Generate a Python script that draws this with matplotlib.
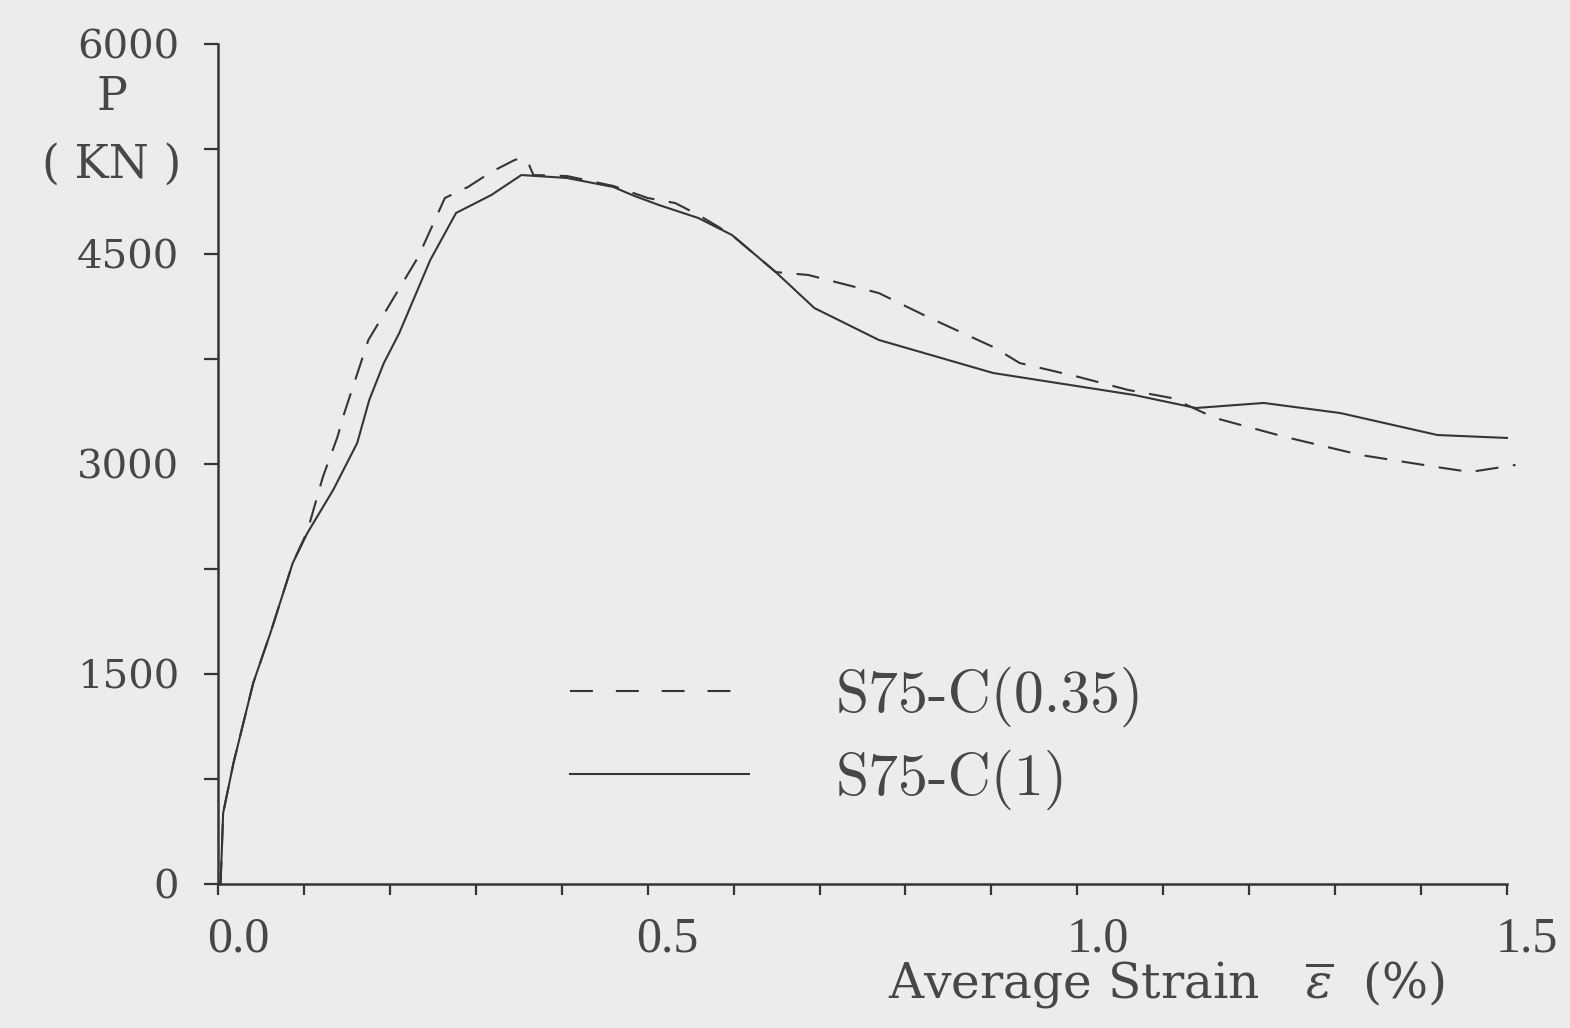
import matplotlib
matplotlib.use("Agg")
import matplotlib.pyplot as plt
import matplotlib.transforms as mtransforms
from matplotlib.lines import Line2D

# ---- data ----
strain_c1 = [0.003, 0.006, 0.018, 0.041, 0.061, 0.087, 0.104, 0.134, 0.162, 0.176,
             0.193, 0.211, 0.247, 0.277, 0.318, 0.353, 0.406, 0.460, 0.482, 0.513,
             0.559, 0.598, 0.649, 0.694, 0.769, 0.902, 1.066, 1.138, 1.217, 1.306,
             1.419, 1.500]
load_c1 = [0, 507, 864, 1436, 1793, 2293, 2507, 2814, 3150, 3457,
           3721, 3936, 4457, 4793, 4921, 5064, 5043, 4979, 4921, 4850,
           4757, 4636, 4371, 4114, 3886, 3650, 3493, 3400, 3436, 3364,
           3207, 3186]

strain_c035 = [0.003, 0.006, 0.018, 0.041, 0.061, 0.087, 0.104, 0.122, 0.139, 0.147,
               0.175, 0.189, 0.233, 0.264, 0.291, 0.318, 0.345, 0.353, 0.362, 0.367,
               0.406, 0.460, 0.500, 0.532, 0.559, 0.598, 0.649, 0.687, 0.769, 0.826,
               0.902, 0.933, 1.002, 1.059, 1.110, 1.160, 1.242, 1.330, 1.426, 1.457,
               1.510]
load_c035 = [0, 507, 864, 1436, 1793, 2293, 2520, 2907, 3193, 3364,
             3886, 4029, 4479, 4900, 4979, 5086, 5171, 5186, 5136, 5064,
             5057, 4986, 4900, 4864, 4779, 4636, 4371, 4350, 4221, 4050,
             3836, 3721, 3621, 3529, 3471, 3329, 3193, 3064, 2971, 2943,
             2993]

series_labels = ["S75-C(0.35)", "S75-C(1)"]
y_major = [0, 1500, 3000, 4500, 6000]
y_minor = [750, 2250, 3750, 5250]
x_ticks = [0.0, 0.1, 0.2, 0.3, 0.4, 0.5, 0.6, 0.7, 0.8, 0.9, 1.0, 1.1, 1.2, 1.3, 1.4, 1.5]
x_ticklabels = ["0.0", "", "", "", "", "0.5", "", "", "", "", "1.0", "", "", "", "", "1.5"]

# ---- styling ----
bg = "#ececed"
ink = "#353535"
txt = "#474747"
plt.rcParams["mathtext.fontset"] = "dejavuserif"

fig = plt.figure(figsize=(15.7, 10.28), dpi=100, facecolor=bg)
ax = fig.add_axes([218/1570, 1 - 884/1028, (1507 - 218)/1570, (884 - 44)/1028])
ax.set_facecolor(bg)

ln_d, = ax.plot(strain_c035, load_c035, color=ink, lw=1.5, dashes=(11, 7),
                clip_on=False, label=series_labels[0])
ln_s, = ax.plot(strain_c1, load_c1, color=ink, lw=1.5, clip_on=False,
                label=series_labels[1])

ax.set_xlim(0, 1.5)
ax.set_ylim(0, 6000)

for s in ["top", "right"]:
    ax.spines[s].set_visible(False)
for s in ["left", "bottom"]:
    ax.spines[s].set_color(ink)
    ax.spines[s].set_linewidth(1.8)

ax.set_yticks(y_major)
ax.set_yticks(y_minor, minor=True)
ax.set_yticklabels([str(v) for v in y_major])
ax.set_xticks(x_ticks)
ax.set_xticklabels(x_ticklabels)

ax.tick_params(axis="y", which="both", direction="out", length=10, width=1.6,
               color=ink, labelsize=29, labelcolor=txt, pad=18)
ax.tick_params(axis="x", which="both", direction="out", length=8, width=1.6,
               color=ink, labelsize=36, labelcolor=txt, pad=15)
for lab in ax.get_yticklabels():
    lab.set_family("DejaVu Serif")
for lab in ax.get_xticklabels():
    lab.set_family("Liberation Serif")
offset = mtransforms.ScaledTranslation(20/100, 0, fig.dpi_scale_trans)
for lab in ax.get_xticklabels():
    lab.set_transform(lab.get_transform() + offset)

ax.set_xlabel(r"Average Strain   $\overline{\varepsilon}$  (%)", family="DejaVu Serif",
              fontsize=35, color=txt, va="center")
ax.xaxis.set_label_coords((1166 - 218)/1289, -(984 - 884)/840)

ax.set_ylabel("P\n( KN )", family="DejaVu Serif", fontsize=33, color=txt,
              rotation=0, ha="center", va="center", linespacing=1.65)
ax.yaxis.set_label_coords((112 - 218)/1289, (884 - 131)/840)

h_d = Line2D([], [], color=ink, lw=1.5, dashes=(11, 11))
h_s = Line2D([], [], color=ink, lw=1.5)
leg = ax.legend([h_d, h_s], series_labels, loc="center left",
                bbox_to_anchor=((570 - 218)/1289, (884 - 738)/840),
                frameon=False, borderpad=0, borderaxespad=0,
                handlelength=3.0, handletextpad=1.45, labelspacing=0.38,
                prop={"family": "cmr10", "size": 43})
for t in leg.get_texts():
    t.set_color(txt)

fig.savefig("out.png", dpi=100, facecolor=bg)
